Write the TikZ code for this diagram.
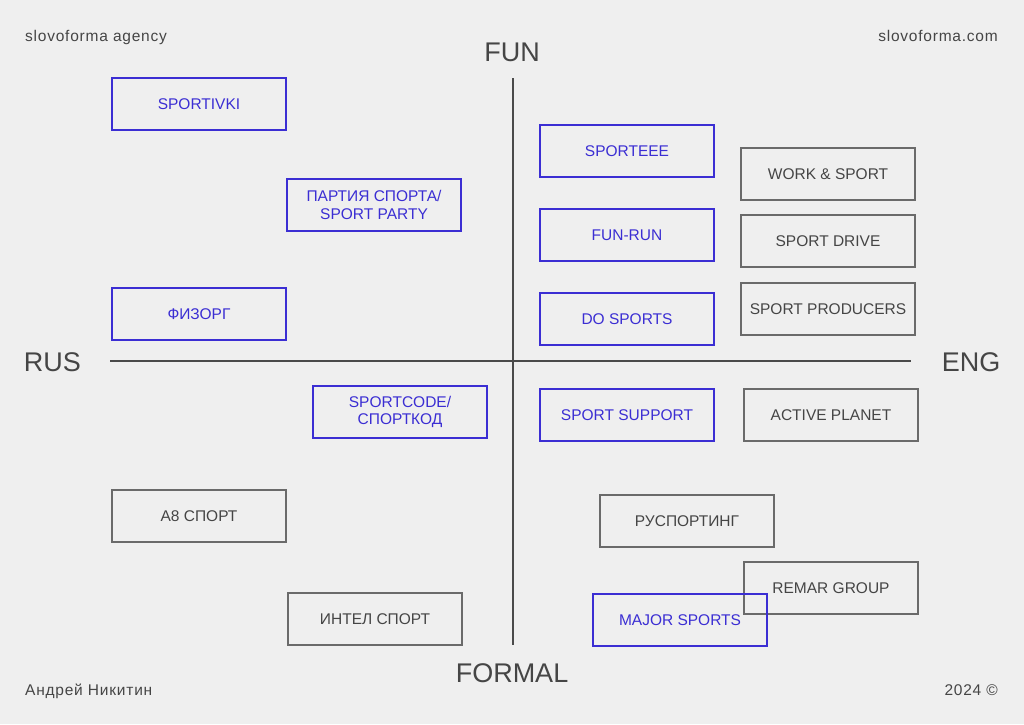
\documentclass[tikz,border=0pt]{standalone}
\usepackage{fontspec}
\setmainfont{Liberation Sans}
\newfontfamily\cornerfont[LetterSpace=5]{Liberation Sans}
\definecolor{bg}{HTML}{EFEFEF}
\definecolor{bluec}{HTML}{3B2ED3}
\definecolor{txtgray}{HTML}{454545}
\definecolor{boxgray}{HTML}{6A6A6A}
\definecolor{axisc}{HTML}{4A4A4A}
\tikzset{
  brand/.style={draw=bluec, text=bluec, line width=1.5pt, minimum width=174pt, minimum height=52pt, inner sep=0pt, align=center, font=\fontsize{15.5}{17.5}\selectfont},
  plain/.style={draw=boxgray, text=txtgray, line width=1.5pt, minimum width=174pt, minimum height=52pt, inner sep=0pt, align=center, font=\fontsize{15.5}{17.5}\selectfont},
  axlabel/.style={text=txtgray, inner sep=0pt, font=\fontsize{27}{30}\selectfont},
  corner/.style={text=txtgray, inner sep=0pt, font=\cornerfont\fontsize{15.5}{18}\selectfont},
  axisline/.style={draw=axisc, line width=2.5pt}
}
\begin{document}
\begin{tikzpicture}[x=1pt,y=-1pt]
\fill[bg] (0,0) rectangle (1024,724);
\useasboundingbox (0,0) rectangle (1024,724);
% axes
\coordinate (vt) at (513,78);
\coordinate (vb) at (513,645);
\coordinate (hl) at (110,361);
\coordinate (hr) at (911,361);
\draw[axisline] (vt) -- (vb);
\draw[axisline] (hl) -- (hr);
% axis labels
\node[axlabel] (fun) at (512,52) {FUN};
\node[axlabel] (formal) at (512,673.5) {FORMAL};
\node[axlabel] (rus) at (52.5,362) {RUS};
\node[axlabel] (eng) at (971,362) {ENG};
% corners
\node[corner, anchor=base west] (ag) at (25,41) {slovoforma agency};
\node[corner, anchor=base east] (site) at (998,41) {slovoforma.com};
\node[corner, anchor=base west] (author) at (25,695) {Андрей Никитин};
\node[corner, anchor=base east] (year) at (998,695) {2024 ©};
% boxes
\node[brand] (sportivki) at (199,104) {SPORTIVKI};
\node[brand] (party) at (374,205) {ПАРТИЯ СПОРТА/\\SPORT PARTY};
\node[brand] (fizorg) at (199,314) {ФИЗОРГ};
\node[brand] (sporteee) at (627,151) {SPORTEEE};
\node[brand] (funrun) at (627,235) {FUN-RUN};
\node[brand] (dosports) at (627,319) {DO SPORTS};
\node[plain] (work) at (828,174) {WORK \& SPORT};
\node[plain] (drive) at (828,241) {SPORT DRIVE};
\node[plain] (producers) at (828,309) {SPORT PRODUCERS};
\node[brand] (sportcode) at (400,412) {SPORTCODE/\\СПОРТКОД};
\node[brand] (support) at (627,415) {SPORT SUPPORT};
\node[plain] (active) at (831,415) {ACTIVE PLANET};
\node[plain] (a8) at (199,516) {A8 СПОРТ};
\node[plain] (intel) at (375,619) {ИНТЕЛ СПОРТ};
\node[plain] (rusporting) at (687,521) {РУСПОРТИНГ};
\node[plain] (remar) at (831,588) {REMAR GROUP};
\node[brand] (major) at (680,620) {MAJOR SPORTS};
\end{tikzpicture}
\end{document}
